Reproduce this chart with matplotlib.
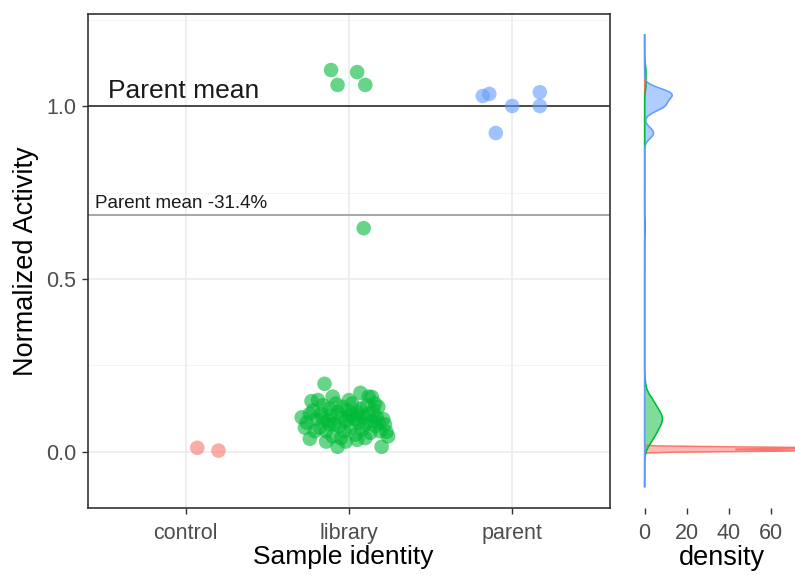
import numpy as np
import matplotlib.pyplot as plt

plt.rcParams['font.family'] = ['Liberation Sans', 'DejaVu Sans']

# categories and colours (ggplot default hue)
categories = ['control', 'library', 'parent']
group_colors = {'control': '#F8766D', 'library': '#00BA38', 'parent': '#619CFF'}

# jittered points (x = category position + jitter)
control_x = [1.07, 1.20]
control_y = [0.012, 0.004]

library_x = [1.85, 1.77, 1.76, 1.93, 2.20, 2.23, 2.07, 2.14, 1.71,
             1.74, 1.78, 1.80, 1.82, 1.83, 1.84, 1.86, 1.87, 1.88, 1.89,
             1.90, 1.91, 1.92, 1.93, 1.94, 1.95, 1.96, 1.97, 1.98, 1.99,
             2.00, 2.01, 2.02, 2.03, 2.04, 2.05, 2.06, 2.07, 2.08, 2.09,
             2.10, 2.11, 2.12, 2.13, 2.14, 2.15, 2.16, 2.17, 2.18, 2.19,
             2.21, 2.22, 2.24, 1.79, 1.81, 1.86, 1.95, 2.00, 2.05, 2.10,
             2.12, 2.18, 1.76, 1.90, 1.98, 2.02, 1.88, 2.06, 1.84, 2.16,
             1.73,
             1.89, 2.05, 1.93, 2.10, 2.09]
library_y = [0.197, 0.147, 0.038, 0.015, 0.015, 0.058, 0.171, 0.159, 0.100,
             0.085, 0.120, 0.095, 0.070, 0.110, 0.135, 0.060, 0.090, 0.125, 0.105,
             0.045, 0.080, 0.140, 0.115, 0.075, 0.100, 0.130, 0.060, 0.090, 0.120,
             0.105, 0.070, 0.140, 0.095, 0.050, 0.115, 0.085, 0.125, 0.065, 0.100,
             0.080, 0.135, 0.110, 0.055, 0.090, 0.120, 0.075, 0.100, 0.085, 0.060,
             0.095, 0.080, 0.045, 0.060, 0.150, 0.030, 0.040, 0.150, 0.035, 0.040,
             0.160, 0.130, 0.110, 0.160, 0.030, 0.110, 0.080, 0.105, 0.095, 0.140,
             0.070,
             1.104, 1.098, 1.061, 1.061, 0.647]

parent_x = [2.82, 2.86, 3.00, 2.90, 3.17, 3.17]
parent_y = [1.029, 1.035, 1.000, 0.922, 1.040, 1.000]

parent_mean = 1.0
threshold = 0.686  # parent mean -31.4%

groups = {
    'control': (control_x, control_y),
    'library': (library_x, library_y),
    'parent': (parent_x, parent_y),
}


# gaussian kde with R's bw.nrd0 bandwidth
def kde_nrd0(values, grid):
    v = np.asarray(values, dtype=float)
    q1, q3 = np.percentile(v, [25, 75])
    lo = min(np.std(v, ddof=1), (q3 - q1) / 1.34)
    bw = 0.9 * lo * len(v) ** -0.2
    z = (grid[:, None] - v[None, :]) / bw
    return np.exp(-0.5 * z ** 2).sum(axis=1) / (len(v) * bw * np.sqrt(2 * np.pi))


fig = plt.figure(figsize=(7.95, 5.77), dpi=100)
ax = fig.add_axes([88 / 795, 69 / 577, 522 / 795, 494 / 577])
axd = fig.add_axes([632 / 795, 69 / 577, 163 / 795, 494 / 577])

# --- main scatter panel ---
for y in [0.25, 0.75, 1.25]:
    ax.axhline(y, color='#F2F2F2', lw=0.6, zorder=0)
for y in [0.0, 0.5, 1.0]:
    ax.axhline(y, color='#EBEBEB', lw=1.1, zorder=0)
for x in [1, 2, 3]:
    ax.axvline(x, color='#EBEBEB', lw=1.1, zorder=0)

ax.axhline(parent_mean, color='#1A1A1A', lw=1.1, zorder=1)
ax.axhline(threshold, color='#A6A6A6', lw=1.4, zorder=1)

for name in categories:
    xs, ys = groups[name]
    ax.scatter(xs, ys, s=110, color=group_colors[name], alpha=0.6,
               edgecolors='none', zorder=2)

ax.text(0.52, 1.01, 'Parent mean', fontsize=19, color='#1A1A1A',
        va='bottom', ha='left')
ax.text(0.44, threshold + 0.008, 'Parent mean -31.4%', fontsize=13.5,
        color='#1A1A1A', va='bottom', ha='left')

ax.set_xlim(0.4, 3.6)
ax.set_ylim(-0.162, 1.266)
ax.set_xticks([1, 2, 3])
ax.set_xticklabels(categories)
ax.set_yticks([0.0, 0.5, 1.0])
ax.set_yticklabels(['0.0', '0.5', '1.0'])
ax.tick_params(labelsize=15.5, colors='#333333', labelcolor='#4D4D4D',
               length=4.5, width=1, pad=4)
ax.tick_params(axis='x', pad=6)
ax.set_xlabel('Sample identity', fontsize=19, labelpad=1)
ax.xaxis.set_label_coords((343 - 88) / 522, -0.075)
ax.set_ylabel('Normalized Activity', fontsize=19.5, labelpad=5)
for sp in ax.spines.values():
    sp.set_color('#333333')
    sp.set_linewidth(1.2)

# --- marginal density panel ---
grid = np.linspace(-0.10, 1.205, 512)
for name in categories:
    _, ys = groups[name]
    dens = kde_nrd0(ys, grid)
    c = group_colors[name]
    axd.fill_betweenx(grid, 0, dens, color=c, alpha=0.5, lw=0)
    axd.plot(dens, grid, color=c, lw=1.1)

axd.set_xlim(-6, 71.4)
axd.set_ylim(-0.162, 1.266)
axd.set_xticks([0, 20, 40, 60])
axd.set_yticks([])
axd.tick_params(labelsize=15.5, colors='#333333', labelcolor='#4D4D4D',
                length=4.5, width=1, pad=6)
axd.set_xlabel('density', fontsize=19.5, labelpad=1)
axd.xaxis.set_label_coords((722 - 632) / 163, -0.075)
for sp in axd.spines.values():
    sp.set_visible(False)

fig.savefig('out.png', dpi=100)
